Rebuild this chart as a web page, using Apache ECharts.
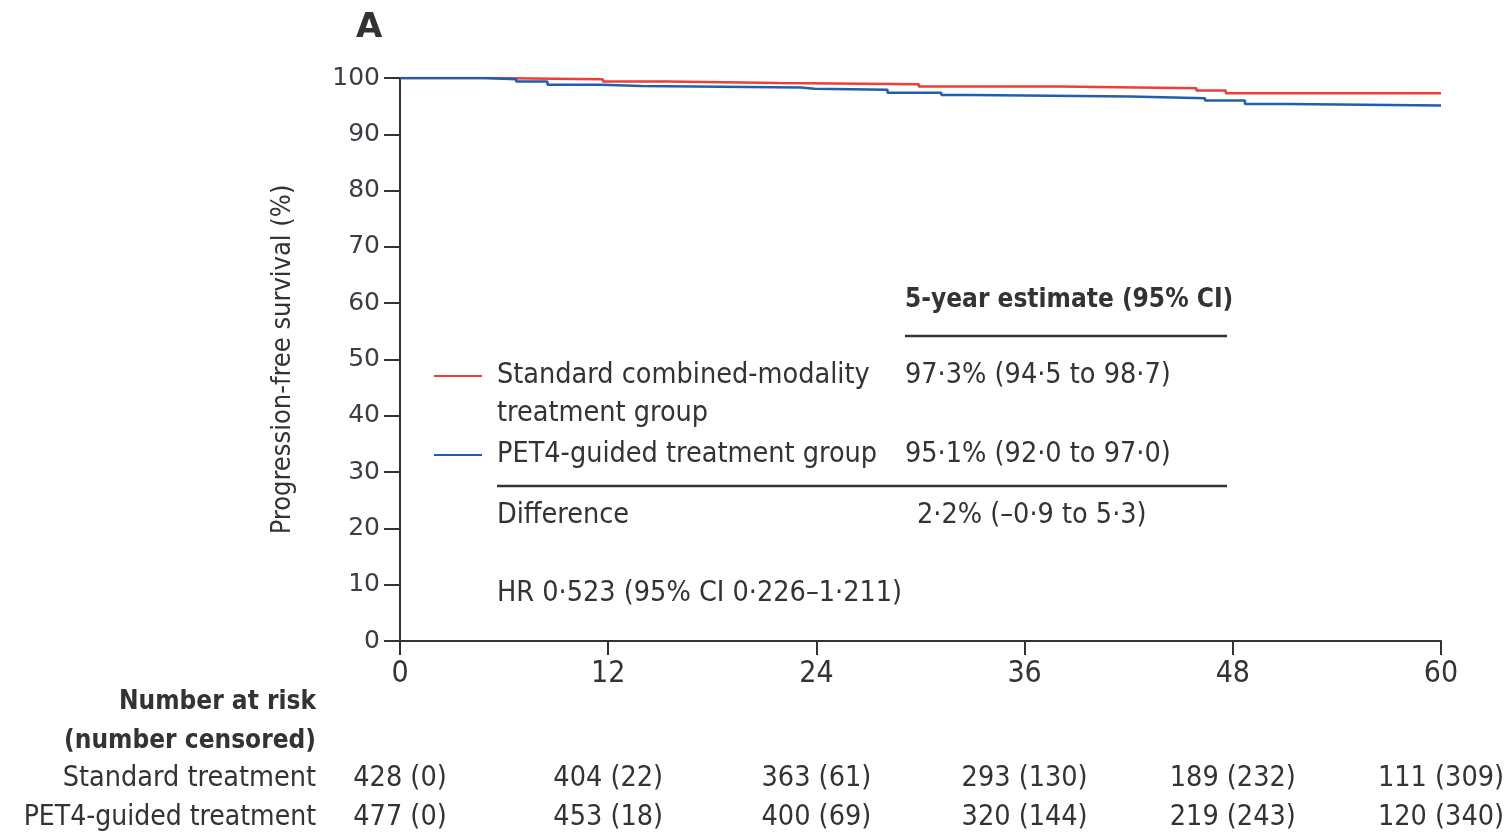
<!DOCTYPE html>
<html>
<head>
<meta charset="utf-8">
<script src="https://cdn.jsdelivr.net/npm/echarts@6/dist/echarts.min.js"></script>
<style>html,body{margin:0;padding:0;background:#fff}#c{width:1506px;height:836px}</style>
</head>
<body>
<div id="c"></div>
<script>
// ---- data ----
const xTicks = [0, 12, 24, 36, 48, 60];
const stdSurvival = [[0,100],[4.9,99.8],[11.7,99.4],[15.4,99.1],[21.8,98.9],[29.9,98.5],[38.0,98.2],[45.9,97.8],[47.6,97.3],[60,97.3]];
const petSurvival = [[0,100],[4.9,99.8],[6.7,99.4],[8.5,98.8],[11.6,98.6],[13.9,98.3],[23.1,98.1],[23.9,97.9],[28.1,97.4],[31.2,97.0],[32.9,96.7],[42.1,96.4],[46.4,96.0],[48.7,95.4],[51.1,95.1],[60,95.1]];
const riskStd = ['428 (0)','404 (22)','363 (61)','293 (130)','189 (232)','111 (309)'];
const riskPet = ['477 (0)','453 (18)','400 (69)','320 (144)','219 (243)','120 (340)'];
const riskRowLabels = ['Number at risk','(number censored)','Standard treatment','PET4-guided treatment'];
const seriesNames = ['Standard combined-modality treatment group','PET4-guided treatment group'];
const estimates = ['97·3% (94·5 to 98·7)','95·1% (92·0 to 97·0)'];
const differenceText = '2·2% (–0·9 to 5·3)';
const hrText = 'HR 0·523 (95% CI 0·226–1·211)';

const RED = '#ec3f3a', BLUE = '#1f5fae', TXT = '#333333', AX = '#333333';
const NARROW = '"Liberation Sans Narrow", "DejaVu Sans Condensed", sans-serif';
const F = (size, weight) => (weight || 'normal') + ' ' + size + 'px ' + NARROW;

const chart = echarts.init(document.getElementById('c'));
function riskAxis(arr, offset) {
  return {
    type: 'value', gridIndex: 0, position: 'bottom', offset: offset,
    min: 0, max: 60, interval: 12,
    axisLine: {show: false}, axisTick: {show: false}, splitLine: {show: false},
    axisLabel: {margin: 16, color: TXT, fontFamily: NARROW, fontSize: 28.5,
      formatter: v => arr[xTicks.indexOf(v)] || ''}
  };
}
function txt(text, x, y, font, align) {
  return {type: 'text', silent: true, style: {text: text, x: x, y: y, font: font, fill: TXT,
    textAlign: align || 'left', textVerticalAlign: 'middle', verticalAlign: 'middle'}};
}
function seg(x1, y1, x2, y2, color, w) {
  return {type: 'line', silent: true, shape: {x1: x1, y1: y1, x2: x2, y2: y2}, style: {stroke: color, lineWidth: w}};
}
const graphics = [
  txt('A', 356, 28, 'bold 34px "DejaVu Sans", sans-serif'),
  txt(riskRowLabels[0], 316, 702, F(26, 'bold'), 'right'),
  txt(riskRowLabels[1], 316, 741, F(26, 'bold'), 'right'),
  txt(riskRowLabels[2], 316, 779, F(28.5), 'right'),
  txt(riskRowLabels[3], 316, 818, F(28), 'right'),
  txt('5-year estimate (95% CI)', 905, 300, F(26, 'bold')),
  seg(905, 336, 1227, 336, AX, 2.5),
  seg(434, 376, 482, 376, RED, 2),
  txt('Standard combined-modality', 497, 376, F(28.5)),
  txt('treatment group', 497, 414, F(28.5)),
  txt(estimates[0], 905, 376, F(28.5)),
  seg(434, 455, 482, 455, BLUE, 2),
  txt(seriesNames[1], 497, 455, F(28.5)),
  txt(estimates[1], 905, 455, F(28.5)),
  seg(497, 486, 1227, 486, AX, 2.5),
  txt('Difference', 497, 516, F(28.5)),
  txt(differenceText, 917, 516, F(28.5)),
  txt(hrText, 497, 594, F(28.5))
];
chart.setOption({
  animation: false,
  backgroundColor: '#fff',
  grid: {left: 400, right: 65, top: 78, bottom: 195, containLabel: false, outerBoundsMode: 'none'},
  xAxis: [
    {type: 'value', min: 0, max: 60, interval: 12,
     axisLine: {show: true, onZero: false, lineStyle: {color: AX, width: 2}},
     axisTick: {show: true, length: 14, lineStyle: {color: AX, width: 2}},
     splitLine: {show: false},
     axisLabel: {margin: 18, color: TXT, fontFamily: NARROW, fontSize: 30}},
    riskAxis(riskStd, 107),
    riskAxis(riskPet, 146)
  ],
  yAxis: {type: 'value', min: 0, max: 100, interval: 10,
    name: 'Progression-free survival (%)', nameLocation: 'middle', nameGap: 104, nameRotate: 90,
    nameTextStyle: {color: TXT, fontFamily: NARROW, fontSize: 27},
    axisLine: {show: true, lineStyle: {color: AX, width: 2}},
    axisTick: {show: true, length: 16, lineStyle: {color: AX, width: 2}},
    splitLine: {show: false},
    axisLabel: {margin: 20, color: '#3a3d45', fontFamily: '"DejaVu Sans", sans-serif', fontSize: 25}},
  series: [
    {name: seriesNames[0], type: 'line', step: 'end', data: stdSurvival, showSymbol: false, symbol: 'none',
     lineStyle: {color: RED, width: 2.5}, itemStyle: {color: RED}, z: 3},
    {name: seriesNames[1], type: 'line', step: 'end', data: petSurvival, showSymbol: false, symbol: 'none',
     lineStyle: {color: BLUE, width: 2.5}, itemStyle: {color: BLUE}, z: 4}
  ],
  graphic: graphics
});
</script>
</body>
</html>
